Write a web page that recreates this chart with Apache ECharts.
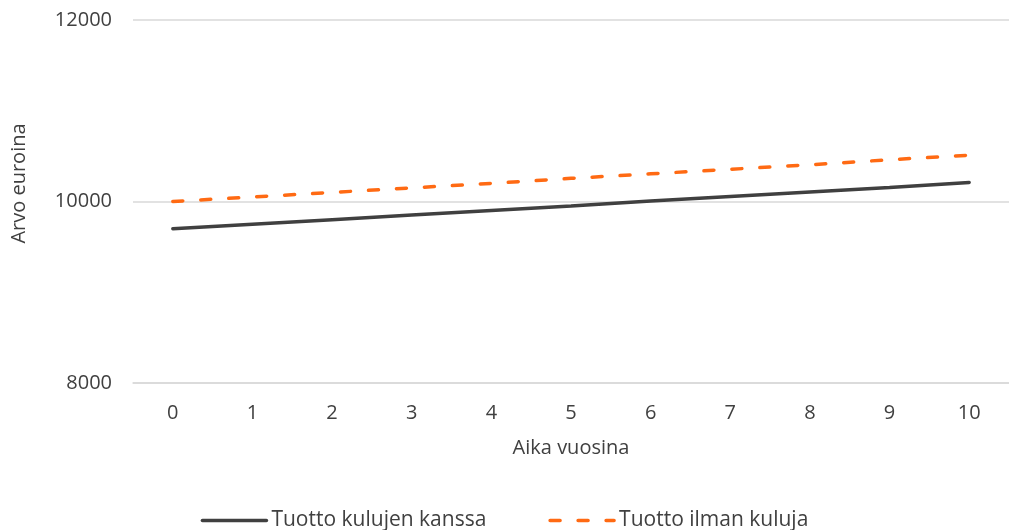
<!DOCTYPE html>
<html>
<head>
<meta charset="utf-8">
<script src="https://cdn.jsdelivr.net/npm/echarts@6/dist/echarts.min.js"></script>
<style>
    html, body { margin: 0; padding: 0; background: #fff; }
    #chart { width: 1009px; height: 530px; }
</style>
</head>
<body>
<div id="chart"></div>
<script>
// vuodet
let years = ['0', '1', '2', '3', '4', '5', '6', '7', '8', '9', '10'];
// arvo kulujen kanssa
let withFees = [9700, 9750, 9800, 9850, 9900, 9950, 10005, 10055, 10105, 10155, 10210];
// arvo ilman kuluja
let withoutFees = [10000, 10050, 10100, 10150, 10200, 10255, 10305, 10355, 10405, 10460, 10510];
let yTicks = {min: 8000, max: 12000, interval: 2000};

let textColor = '#404040';
let fontFamily = '"Open Sans", "Noto Sans", sans-serif';
let fontSize = 20;

let chart = echarts.init(document.getElementById('chart'));

let option = {
    animation: false,
    textStyle: {
        fontFamily: fontFamily,
        color: textColor
    },
    grid: {
        left: 133,
        right: 0,
        top: 20,
        bottom: 147
    },
    legend: {
        top: 510,
        left: 'center',
        padding: 0,
        itemWidth: 64,
        itemHeight: 4,
        itemGap: 62,
        lineStyle: {
            width: 3.5
        },
        textStyle: {
            fontSize: 21,
            color: textColor,
            fontFamily: fontFamily
        },
        data: ['Tuotto kulujen kanssa', 'Tuotto ilman kuluja']
    },
    xAxis: {
        type: 'category',
        data: years,
        boundaryGap: true,
        name: 'Aika vuosina',
        nameLocation: 'middle',
        nameGap: 55,
        nameTextStyle: {
            fontSize: fontSize,
            color: textColor
        },
        axisLine: {
            lineStyle: {color: '#d9d9d9', width: 1.5}
        },
        axisTick: {
            length: 6,
            lineStyle: {color: '#d9d9d9', width: 1.5}
        },
        axisLabel: {
            fontSize: fontSize,
            color: textColor,
            margin: 20
        }
    },
    yAxis: {
        type: 'value',
        min: yTicks.min,
        max: yTicks.max,
        interval: yTicks.interval,
        name: 'Arvo euroina',
        nameLocation: 'middle',
        nameGap: 104,
        nameTextStyle: {
            fontSize: fontSize,
            color: textColor,
            padding: [0, 0, 0, 36]
        },
        axisLine: {show: false},
        axisTick: {show: false},
        axisLabel: {
            fontSize: fontSize,
            color: textColor,
            margin: 21,
            formatter: function (value) {
                return String(value);
            }
        },
        splitLine: {
            lineStyle: {color: '#d9d9d9', width: 1.5}
        }
    },
    series: [
        {
            name: 'Tuotto kulujen kanssa',
            type: 'line',
            data: withFees,
            symbol: 'none',
            color: '#404040',
            lineStyle: {
                color: '#404040',
                width: 3.5,
                cap: 'round'
            }
        },
        {
            name: 'Tuotto ilman kuluja',
            type: 'line',
            data: withoutFees,
            symbol: 'none',
            color: '#ff6a13',
            lineStyle: {
                color: '#ff6a13',
                width: 3.5,
                type: [10, 18],
                cap: 'round'
            }
        }
    ]
};

chart.setOption(option);
</script>
</body>
</html>
